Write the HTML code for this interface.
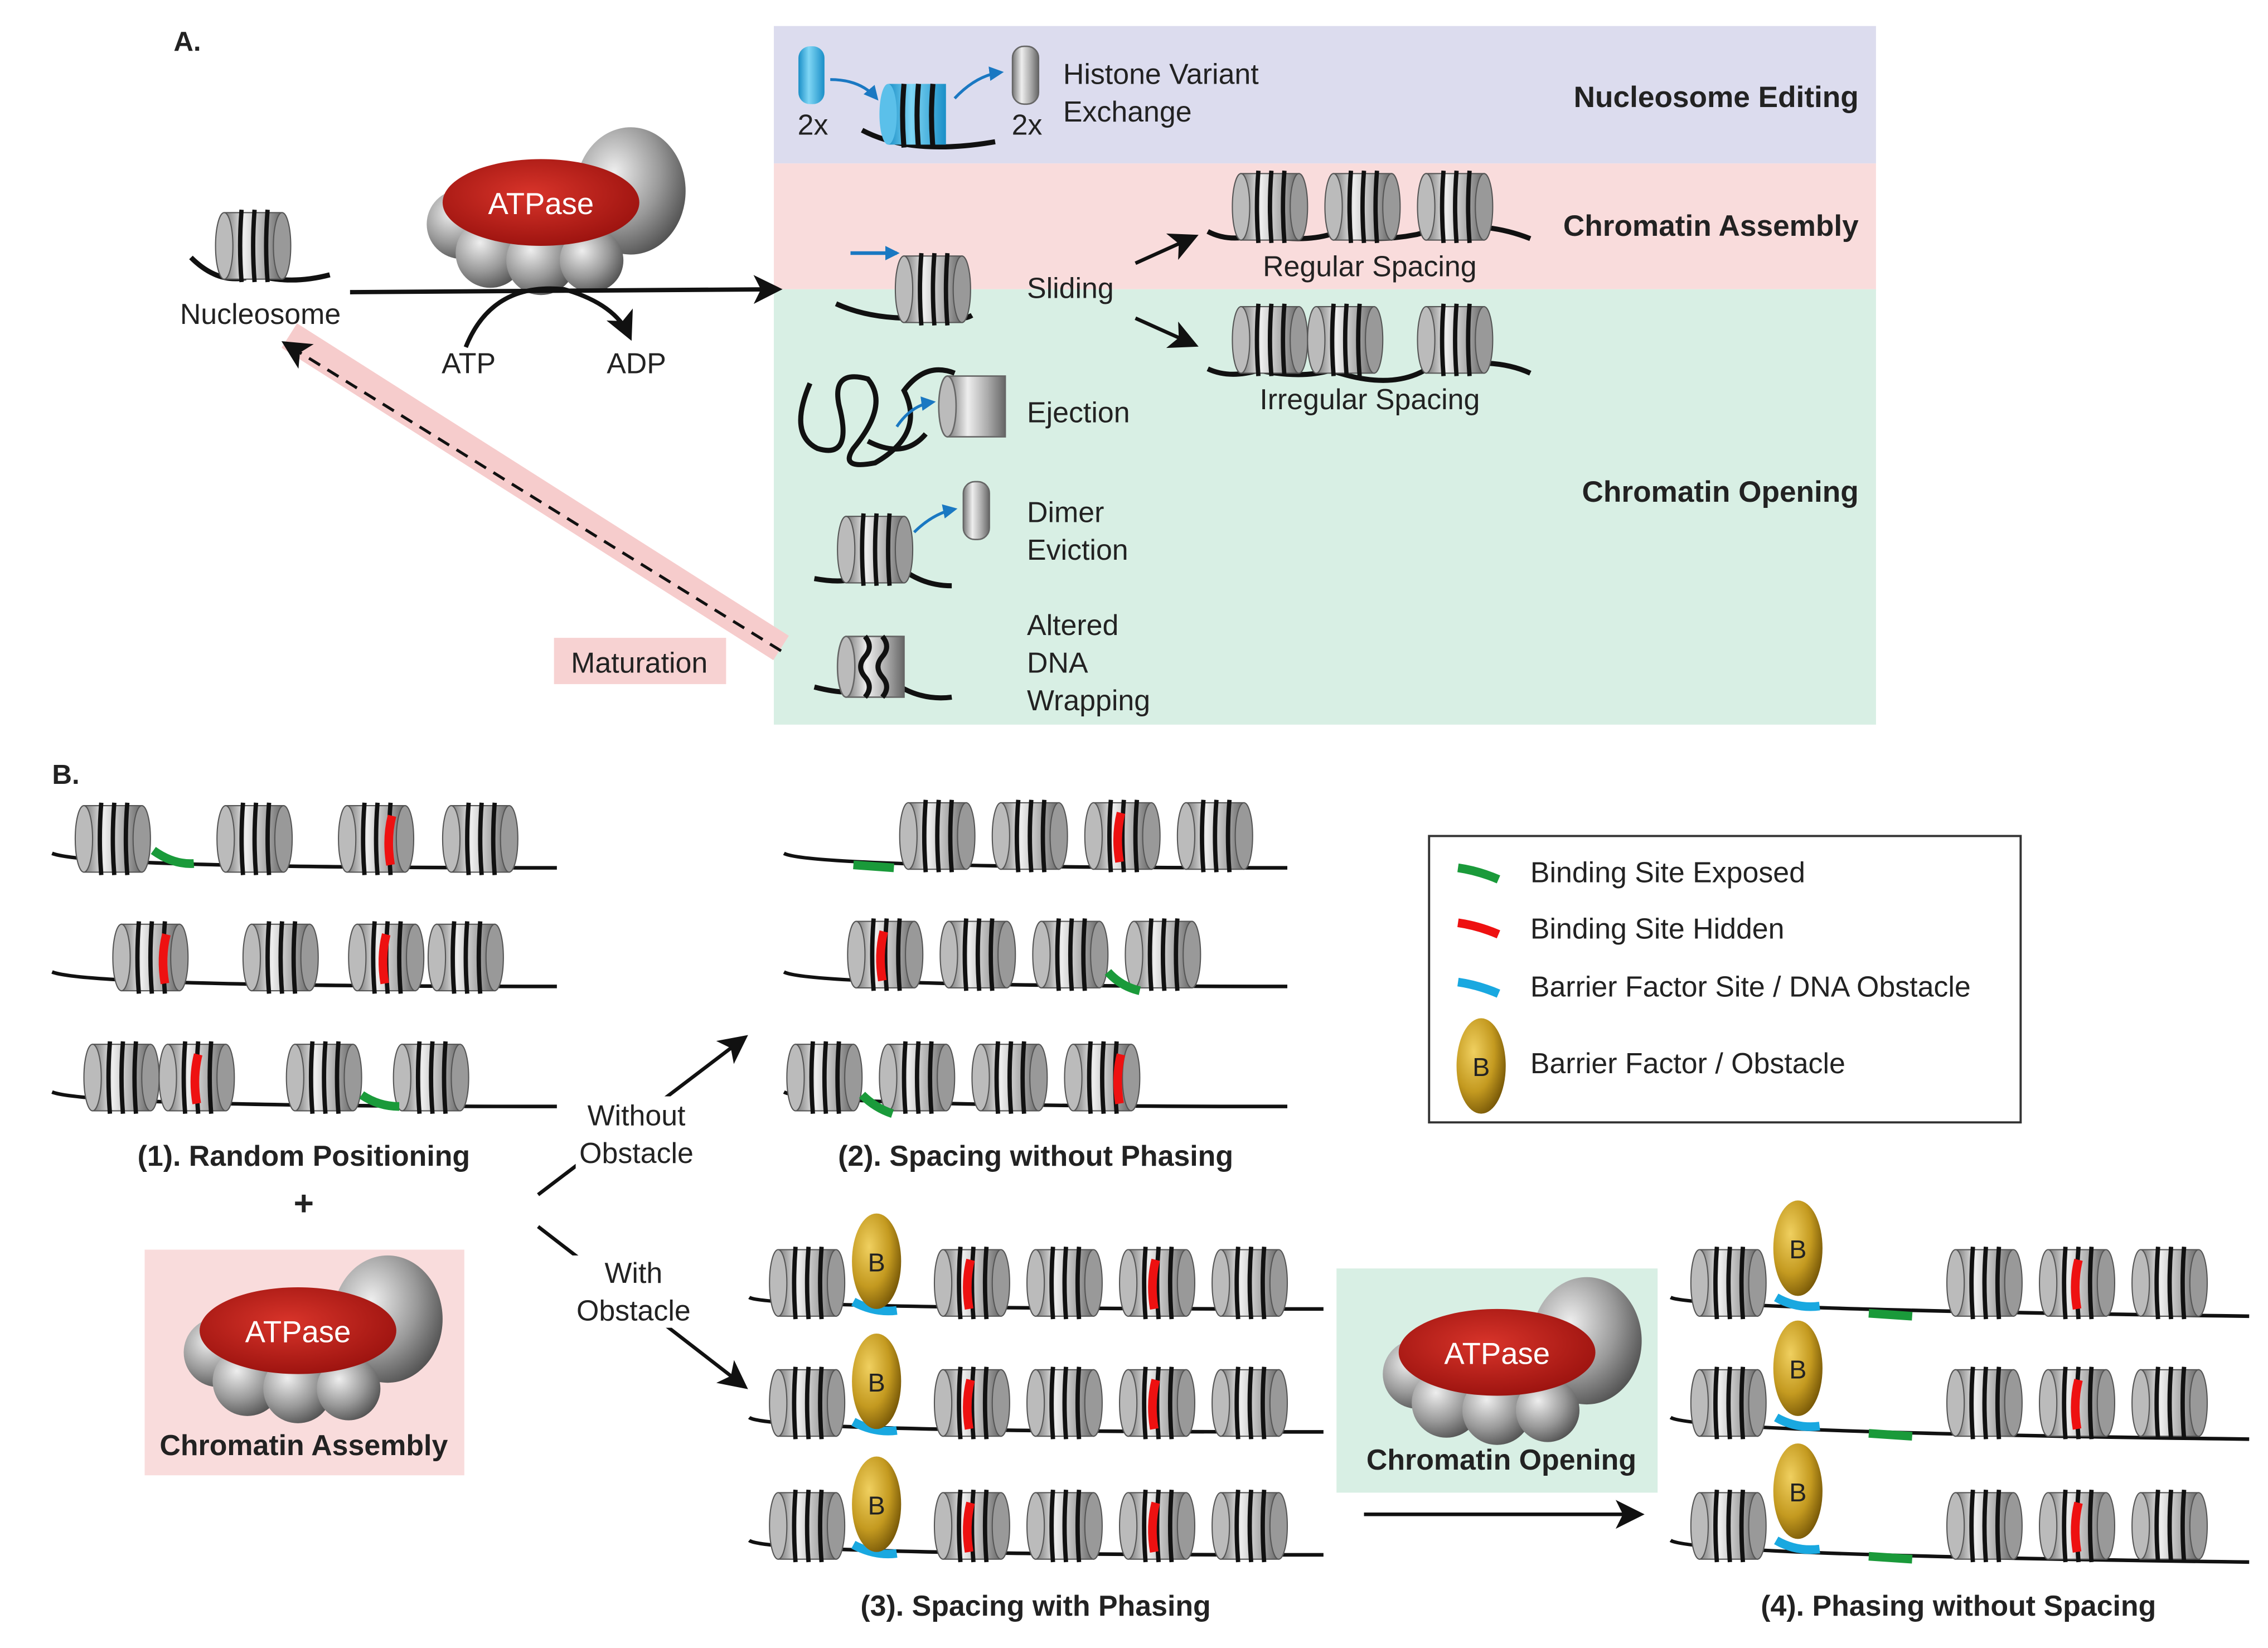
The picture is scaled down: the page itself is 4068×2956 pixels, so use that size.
<!DOCTYPE html>
<html><head><meta charset="utf-8"><style>
html,body{margin:0;padding:0;background:#fff}
svg{display:block}
text{font-family:"Liberation Sans",Arial,sans-serif;fill:#222}
.b{font-weight:bold}
</style></head><body>
<svg width="4068" height="2956" viewBox="0 0 1568 1139.4" xmlns="http://www.w3.org/2000/svg" xmlns:xlink="http://www.w3.org/1999/xlink">
<defs>
<linearGradient id="cg" x1="0" y1="0" x2="1" y2="0">
<stop offset="0" stop-color="#777"/><stop offset="0.35" stop-color="#eee"/><stop offset="0.7" stop-color="#aaa"/><stop offset="1" stop-color="#666"/></linearGradient>
<linearGradient id="bg" x1="0" y1="0" x2="1" y2="0">
<stop offset="0" stop-color="#1a8fc7"/><stop offset="0.4" stop-color="#7fd6f5"/><stop offset="1" stop-color="#1a8fc7"/></linearGradient>
<radialGradient id="rg" cx="0.45" cy="0.4" r="0.6"><stop offset="0" stop-color="#d8342a"/><stop offset="1" stop-color="#9e1410"/></radialGradient>
<radialGradient id="gs" cx="0.35" cy="0.35" r="0.7"><stop offset="0" stop-color="#eee"/><stop offset="0.6" stop-color="#999"/><stop offset="1" stop-color="#555"/></radialGradient>
<radialGradient id="yb" cx="0.35" cy="0.35" r="0.7"><stop offset="0" stop-color="#f0d060"/><stop offset="0.6" stop-color="#c49a20"/><stop offset="1" stop-color="#7a5a08"/></radialGradient>
<g id="n">
<rect x="-20" y="-23" width="40" height="46" fill="url(#cg)" stroke="#555" stroke-width="0.8"/>
<ellipse cx="20" cy="0" rx="6" ry="23" fill="#999" stroke="#555" stroke-width="0.8"/>
<ellipse cx="-20" cy="0" rx="6" ry="23" fill="#bbb" stroke="#555" stroke-width="0.8"/>
<path d="M-8,-25 Q-10,0 -8,25 M1,-25 Q-1,0 1,25 M10,-25 Q8,0 10,25" stroke="#111" stroke-width="3" fill="none"/>
</g>
<g id="red"><path d="M3,-16 Q-1,0 2,18" stroke="#e11" stroke-width="6" fill="none"/></g>
<g id="atp">
<ellipse cx="62" cy="-8" rx="38" ry="44" fill="url(#gs)"/>
<circle cx="-55" cy="15" r="24" fill="url(#gs)"/>
<circle cx="-35" cy="35" r="24" fill="url(#gs)"/>
<circle cx="0" cy="40" r="24" fill="url(#gs)"/>
<circle cx="35" cy="40" r="22" fill="url(#gs)"/>
<ellipse cx="0" cy="0" rx="68" ry="30" fill="url(#rg)"/>
<text x="0" y="8" text-anchor="middle" font-size="21" style="fill:#fff">ATPase</text>
</g>
<g id="bb"><ellipse cx="0" cy="0" rx="17" ry="33" fill="url(#yb)"/><text x="0" y="7" text-anchor="middle" font-size="18">B</text></g>
<marker id="ah2" markerWidth="20" markerHeight="20" refX="16" refY="10" orient="auto" markerUnits="userSpaceOnUse"><path d="M0,0 L20,10 L0,20 L5,10z" fill="#111"/></marker>
<marker id="ab" markerWidth="10" markerHeight="10" refX="8" refY="5" orient="auto" markerUnits="userSpaceOnUse"><path d="M0,0 L10,5 L0,10z" fill="#1a78c2"/></marker>
</defs>

<rect x="535" y="18" width="762" height="95" fill="#dcdcee"/>
<rect x="535" y="113" width="762" height="87" fill="#f9dcdc"/>
<rect x="535" y="200" width="762" height="301" fill="#d8efe4"/>
<text x="120" y="35" font-size="19" class="b">A.</text>
<text x="36" y="542" font-size="19" class="b">B.</text>

<path d="M132,178 Q150,196 170,192 M185,192 Q205,196 228,190" stroke="#111" stroke-width="3.5" fill="none"/>
<use xlink:href="#n" x="175" y="170"/>
<text x="180" y="224" text-anchor="middle" font-size="20">Nucleosome</text>
<use xlink:href="#atp" x="374" y="140"/>
<path d="M242,202 L537,200" stroke="#111" stroke-width="3" marker-end="url(#ah2)"/>
<path d="M322,240 Q340,195 390,200 Q425,210 435,232" stroke="#111" stroke-width="3" fill="none" marker-end="url(#ah2)"/>
<text x="324" y="258" text-anchor="middle" font-size="20">ATP</text>
<text x="440" y="258" text-anchor="middle" font-size="20">ADP</text>
<path d="M200,232 L540,448" stroke="#f6cccc" stroke-width="20"/>
<path d="M540,450 L198,238" stroke="#111" stroke-width="2" stroke-dasharray="9,6" marker-end="url(#ah2)"/>
<rect x="383" y="441" width="119" height="32" fill="#f7d2d2"/>
<text x="442" y="465" text-anchor="middle" font-size="20">Maturation</text>

<rect x="552" y="32" width="18" height="40" rx="8" fill="url(#bg)"/>
<text x="562" y="93" text-anchor="middle" font-size="20">2x</text>
<path d="M574,55 Q595,55 606,68" stroke="#1a78c2" stroke-width="2" fill="none" marker-end="url(#ab)"/>
<path d="M596,90 Q630,108 688,98" stroke="#111" stroke-width="3.5" fill="none"/>
<rect x="614" y="58" width="40" height="42" fill="url(#bg)"/><ellipse cx="614" cy="79" rx="6" ry="21" fill="#5bc0ea"/>
<path d="M625,58 Q623,80 625,102 M635,58 Q633,80 635,102 M645,58 Q643,80 645,102" stroke="#111" stroke-width="3.5" fill="none"/>
<path d="M660,68 Q675,52 692,50" stroke="#1a78c2" stroke-width="2" fill="none" marker-end="url(#ab)"/>
<rect x="700" y="32" width="18" height="40" rx="8" fill="url(#cg)" stroke="#666"/>
<text x="710" y="93" text-anchor="middle" font-size="20">2x</text>
<text x="735" y="58" font-size="20">Histone Variant</text>
<text x="735" y="84" font-size="20">Exchange</text>
<text x="1285" y="74" text-anchor="end" font-size="20.5" class="b">Nucleosome Editing</text>

<path d="M588,175 L620,175" stroke="#1a78c2" stroke-width="2.5" marker-end="url(#ab)"/>
<path d="M578,210 Q600,220 630,220 M650,220 Q665,222 672,218" stroke="#111" stroke-width="3.5" fill="none"/>
<use xlink:href="#n" x="645" y="200"/>
<text x="710" y="206" font-size="20">Sliding</text>
<path d="M785,182 L825,164" stroke="#111" stroke-width="2.5" marker-end="url(#ah2)"/>
<path d="M785,220 L825,238" stroke="#111" stroke-width="2.5" marker-end="url(#ah2)"/>
<path d="M835,160 Q850,168 870,162 Q900,168 920,162 Q950,168 980,162 Q1020,150 1058,165" stroke="#111" stroke-width="3.5" fill="none"/>
<use xlink:href="#n" x="878" y="143"/><use xlink:href="#n" x="942" y="143"/><use xlink:href="#n" x="1006" y="143"/>
<text x="947" y="191" text-anchor="middle" font-size="20">Regular Spacing</text>
<text x="1285" y="163" text-anchor="end" font-size="20.5" class="b">Chromatin Assembly</text>
<path d="M835,255 Q850,262 870,256 Q900,262 920,256 Q960,270 985,256 Q1030,245 1058,258" stroke="#111" stroke-width="3.5" fill="none"/>
<use xlink:href="#n" x="878" y="235"/><use xlink:href="#n" x="930" y="235"/><use xlink:href="#n" x="1006" y="235"/>
<text x="947" y="283" text-anchor="middle" font-size="20">Irregular Spacing</text>
<text x="1285" y="347" text-anchor="end" font-size="20.5" class="b">Chromatin Opening</text>

<path d="M560,265 Q545,300 565,310 Q590,318 580,280 Q575,255 600,262 Q615,280 590,310 Q580,325 605,320 Q640,300 625,270 Q640,250 660,258 M600,305 Q625,318 640,300" stroke="#111" stroke-width="3.5" fill="none"/>
<path d="M620,295 Q630,280 645,278" stroke="#1a78c2" stroke-width="2" fill="none" marker-end="url(#ab)"/>
<rect x="655" y="260" width="40" height="42" fill="url(#cg)" stroke="#666"/><ellipse cx="655" cy="281" rx="6" ry="21" fill="#bbb" stroke="#666"/>
<text x="710" y="292" font-size="20">Ejection</text>
<path d="M563,400 Q590,405 600,395 M610,380 Q630,405 658,405" stroke="#111" stroke-width="3.5" fill="none"/>
<use xlink:href="#n" x="605" y="380"/>
<path d="M632,368 Q645,355 660,352" stroke="#1a78c2" stroke-width="2" fill="none" marker-end="url(#ab)"/>
<rect x="666" y="333" width="18" height="40" rx="8" fill="url(#cg)" stroke="#666"/>
<text x="710" y="361" font-size="20">Dimer</text><text x="710" y="387" font-size="20">Eviction</text>
<path d="M563,475 Q590,482 600,475 M615,470 Q635,485 658,482" stroke="#111" stroke-width="3.5" fill="none"/>
<rect x="585" y="440" width="40" height="42" fill="url(#cg)" stroke="#666"/><ellipse cx="585" cy="461" rx="6" ry="21" fill="#bbb" stroke="#666"/>
<path d="M598,440 q6,7 0,14 q-6,7 0,14 q6,7 0,14 M610,440 q6,7 0,14 q-6,7 0,14 q6,7 0,14" stroke="#111" stroke-width="3.5" fill="none"/>
<text x="710" y="439" font-size="20">Altered</text><text x="710" y="465" font-size="20">DNA</text><text x="710" y="491" font-size="20">Wrapping</text>

<g stroke="#111" stroke-width="2.5" fill="none">
<path d="M36,590 Q60,600 385,600"/><path d="M36,672 Q60,682 385,682"/><path d="M36,755 Q60,765 385,765"/>
<path d="M542,590 Q560,600 890,600"/><path d="M542,672 Q560,682 890,682"/><path d="M542,755 Q560,765 890,765"/>
<path d="M518,897 Q530,905 915,905"/><path d="M518,980 Q530,990 915,990"/><path d="M518,1065 Q530,1075 915,1075"/>
<path d="M1155,897 Q1170,905 1555,910"/><path d="M1155,980 Q1170,990 1555,995"/><path d="M1155,1065 Q1170,1075 1555,1080"/>
</g>
<use xlink:href="#n" x="78" y="580"/><use xlink:href="#n" x="176" y="580"/><use xlink:href="#n" x="260" y="580"/><use xlink:href="#red" x="268" y="580"/><use xlink:href="#n" x="332" y="580"/>
<path d="M106,588 Q120,598 134,597" stroke="#1a9a3a" stroke-width="6" fill="none"/>
<use xlink:href="#n" x="104" y="662"/><use xlink:href="#red" x="112" y="662"/><use xlink:href="#n" x="194" y="662"/><use xlink:href="#n" x="267" y="662"/><use xlink:href="#red" x="264" y="662"/><use xlink:href="#n" x="322" y="662"/>
<use xlink:href="#n" x="84" y="745"/><use xlink:href="#n" x="136" y="745"/><use xlink:href="#red" x="134" y="745"/><use xlink:href="#n" x="224" y="745"/><use xlink:href="#n" x="298" y="745"/>
<path d="M250,757 Q262,765 276,765" stroke="#1a9a3a" stroke-width="6" fill="none"/>
<text x="210" y="806" text-anchor="middle" font-size="20" class="b">(1). Random Positioning</text>
<text x="210" y="840" text-anchor="middle" font-size="24" class="b">+</text>
<rect x="100" y="864" width="221" height="156" fill="#f9dcdc"/>
<use xlink:href="#atp" x="206" y="920"/>
<text x="210" y="1006" text-anchor="middle" font-size="20" class="b">Chromatin Assembly</text>

<path d="M372,826 L514,718" stroke="#111" stroke-width="2.5" marker-end="url(#ah2)"/>
<path d="M372,848 L514,958" stroke="#111" stroke-width="2.5" marker-end="url(#ah2)"/>
<rect x="398" y="758" width="88" height="50" fill="#fff"/>
<text x="440" y="778" text-anchor="middle" font-size="20">Without</text><text x="440" y="804" text-anchor="middle" font-size="20">Obstacle</text>
<rect x="394" y="868" width="90" height="50" fill="#fff"/>
<text x="438" y="887" text-anchor="middle" font-size="20">With</text><text x="438" y="913" text-anchor="middle" font-size="20">Obstacle</text>

<path d="M590,598 L618,600" stroke="#1a9a3a" stroke-width="6"/>
<use xlink:href="#n" x="648" y="578"/><use xlink:href="#n" x="712" y="578"/><use xlink:href="#n" x="776" y="578"/><use xlink:href="#red" x="772" y="578"/><use xlink:href="#n" x="840" y="578"/>
<use xlink:href="#n" x="612" y="660"/><use xlink:href="#red" x="608" y="660"/><use xlink:href="#n" x="676" y="660"/><use xlink:href="#n" x="740" y="660"/><use xlink:href="#n" x="804" y="660"/>
<path d="M766,672 Q775,682 788,685" stroke="#1a9a3a" stroke-width="6" fill="none"/>
<use xlink:href="#n" x="570" y="745"/><use xlink:href="#n" x="634" y="745"/><use xlink:href="#n" x="698" y="745"/><use xlink:href="#n" x="762" y="745"/><use xlink:href="#red" x="772" y="745"/>
<path d="M596,757 Q605,766 617,770" stroke="#1a9a3a" stroke-width="6" fill="none"/>
<text x="716" y="806" text-anchor="middle" font-size="20" class="b">(2). Spacing without Phasing</text>

<rect x="988" y="578" width="409" height="198" fill="#fff" stroke="#333" stroke-width="1.5"/>
<path d="M1008,600 Q1022,602 1036,608" stroke="#1a9a3a" stroke-width="6" fill="none"/>
<text x="1058" y="610" font-size="20">Binding Site Exposed</text>
<path d="M1008,638 Q1022,640 1036,646" stroke="#e11" stroke-width="6" fill="none"/>
<text x="1058" y="649" font-size="20">Binding Site Hidden</text>
<path d="M1008,679 Q1022,681 1036,687" stroke="#19a8e0" stroke-width="6" fill="none"/>
<text x="1058" y="689" font-size="20">Barrier Factor Site / DNA Obstacle</text>
<use xlink:href="#bb" x="1024" y="737"/>
<text x="1058" y="742" font-size="20">Barrier Factor / Obstacle</text>

<g id="r3">
<use xlink:href="#n" x="558" y="887"/>
<path d="M590,900 Q605,908 620,906" stroke="#19a8e0" stroke-width="6" fill="none"/>
<use xlink:href="#bb" x="606" y="872"/>
<use xlink:href="#n" x="672" y="887"/><use xlink:href="#red" x="668" y="887"/>
<use xlink:href="#n" x="736" y="887"/><use xlink:href="#n" x="800" y="887"/><use xlink:href="#red" x="796" y="887"/><use xlink:href="#n" x="864" y="887"/>
</g>
<use xlink:href="#r3" y="83"/><use xlink:href="#r3" y="168"/>
<text x="716" y="1117" text-anchor="middle" font-size="20" class="b">(3). Spacing with Phasing</text>

<rect x="924" y="877" width="222" height="155" fill="#d8efe4"/>
<use xlink:href="#atp" x="1035" y="935"/>
<text x="1038" y="1016" text-anchor="middle" font-size="20" class="b">Chromatin Opening</text>
<path d="M943,1047 L1133,1047" stroke="#111" stroke-width="2.5" marker-end="url(#ah2)"/>

<g id="r4">
<use xlink:href="#n" x="1195" y="887"/>
<path d="M1228,897 Q1242,905 1258,903" stroke="#19a8e0" stroke-width="6" fill="none"/>
<path d="M1292,908 L1322,910" stroke="#1a9a3a" stroke-width="6"/>
<use xlink:href="#bb" x="1243" y="863"/>
<use xlink:href="#n" x="1372" y="887"/><use xlink:href="#n" x="1436" y="887"/><use xlink:href="#red" x="1434" y="887"/><use xlink:href="#n" x="1500" y="887"/>
</g>
<use xlink:href="#r4" y="83"/><use xlink:href="#r4" y="168"/>
<text x="1354" y="1117" text-anchor="middle" font-size="20" class="b">(4). Phasing without Spacing</text>
</svg>
</body></html>
